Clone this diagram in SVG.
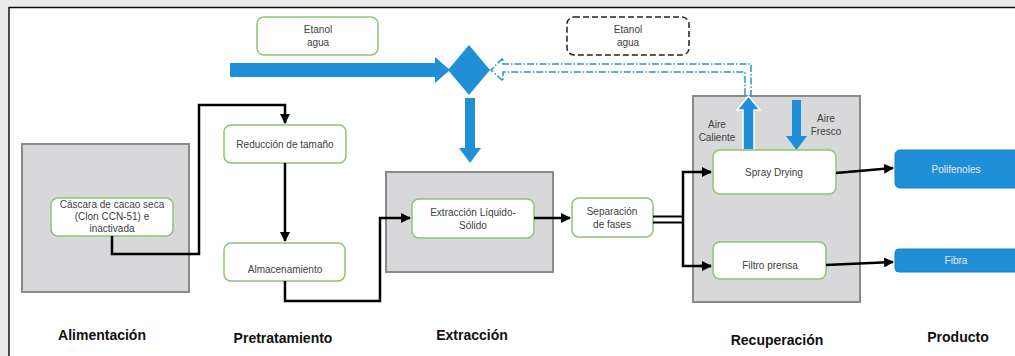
<svg xmlns="http://www.w3.org/2000/svg" width="1015" height="356" viewBox="0 0 1015 356">
<style>
.stage{fill:#d8d8da;stroke:#8a8a8a;stroke-width:2}
.node{fill:#fff;stroke:#8cc474;stroke-width:1.5}
.t{font-family:"Liberation Sans",Arial,sans-serif;font-size:10px;fill:#404040;text-anchor:middle}
.h{font-family:"Liberation Sans",Arial,sans-serif;font-size:14px;font-weight:bold;fill:#111;text-anchor:middle}
.prod{fill:#1f8fd8;stroke:#1a7fc4;stroke-width:1}
.pt{font-family:"Liberation Sans",Arial,sans-serif;font-size:10px;fill:#e8e8f4;text-anchor:middle}
.blue{fill:#1f8fd8}
.c{fill:none;stroke:#000;stroke-width:2.5}
</style>
<defs>
<marker id="ah" markerWidth="10" markerHeight="10" refX="9" refY="5" orient="auto" markerUnits="userSpaceOnUse">
<path d="M0,0 L10,5 L0,10 Z" fill="#000"/>
</marker>
</defs>
<rect x="0" y="0" width="1015" height="356" fill="#ececec"/>
<rect x="9" y="7.5" width="1020" height="360" fill="#fff" stroke="#111" stroke-width="1.5"/>

<g id="stage-alimentacion"><rect class="stage" x="22" y="144" width="167" height="148"/></g>
<g id="stage-extraccion"><rect class="stage" x="386" y="172" width="167" height="100"/></g>
<g id="stage-recuperacion"><rect class="stage" x="693" y="96" width="167" height="206"/></g>

<g id="solvent-in">
<rect class="node" x="257" y="17" width="121" height="38" rx="7"/>
<text class="t" x="318" y="33">Etanol</text>
<text class="t" x="318" y="46">agua</text>
</g>
<g id="solvent-recovered">
<rect x="567" y="17" width="122" height="38" rx="7" fill="#fff" stroke="#222" stroke-width="1.5" stroke-dasharray="6,3"/>
<text class="t" x="628" y="33">Etanol</text>
<text class="t" x="628" y="46">agua</text>
</g>
<g id="mixer"><polygon class="blue" points="448,70 469,45 490,70 469,95"/></g>

<g id="flows">
<polygon class="blue" points="230,63 435,63 435,57 450,70 435,83 435,77 230,77"/>
<polygon class="blue" points="465,98 475,98 475,148 481,148 470,163 459,148 465,148"/>
<path d="M751,97 L751,64 L503,64 L503,58 L491,70 L503,81 L503,72 L745,72 L745,97" fill="none" stroke="#2a90d8" stroke-width="1.5" stroke-dasharray="7,2,1.5,2"/>
<polygon class="blue" points="743,150 743,110 737,110 748.5,96 760,110 754,110 754,150" stroke="#fff" stroke-width="1.5"/>
<polygon class="blue" points="792,100 801,100 801,136 807,136 796.5,150 786,136 792,136"/>
</g>

<g id="cascara">
<rect class="node" x="51" y="198" width="122" height="38" rx="7"/>
<text class="t" x="112" y="208">Cáscara de cacao seca</text>
<text class="t" x="112" y="220">(Clon CCN-51) e</text>
<text class="t" x="112" y="232">inactivada</text>
</g>
<g id="reduccion">
<rect class="node" x="224" y="125" width="122" height="38" rx="7"/>
<text class="t" x="285" y="148">Reducción de tamaño</text>
</g>
<g id="almacenamiento">
<rect class="node" x="224" y="243" width="121" height="38" rx="7"/>
<text class="t" x="285" y="273">Almacenamiento</text>
</g>
<g id="extraccion-ls">
<rect class="node" x="412" y="199" width="122" height="39" rx="7"/>
<text class="t" x="473" y="216">Extracción Líquido-</text>
<text class="t" x="473" y="229">Sólido</text>
</g>
<g id="separacion">
<rect class="node" x="572" y="198" width="81" height="39" rx="7"/>
<text class="t" x="612" y="215">Separación</text>
<text class="t" x="612" y="228">de fases</text>
</g>
<g id="spray">
<rect class="node" x="713" y="150" width="123" height="44" rx="7"/>
<text class="t" x="774" y="176">Spray Drying</text>
<text class="t" x="717" y="128">Aire</text>
<text class="t" x="717" y="141">Caliente</text>
<text class="t" x="826" y="122">Aire</text>
<text class="t" x="826" y="135">Fresco</text>
</g>
<g id="filtro">
<rect class="node" x="713" y="242" width="113" height="37" rx="7"/>
<text class="t" x="770" y="269">Filtro prensa</text>
</g>
<g id="polifenoles">
<rect class="prod" x="895" y="150" width="130" height="38" rx="5"/>
<text class="pt" x="956" y="173">Polifenoles</text>
</g>
<g id="fibra">
<rect class="prod" x="895" y="249" width="130" height="23" rx="4"/>
<text class="pt" x="956" y="264">Fibra</text>
</g>

<g id="connectors">
<path class="c" d="M112,236 L112,254 L199,254 L199,105 L285,105 L285,123" marker-end="url(#ah)"/>
<path class="c" d="M285,163 L285,241" marker-end="url(#ah)"/>
<path class="c" d="M285,281 L285,301 L380,301 L380,218 L410,218" marker-end="url(#ah)"/>
<path class="c" d="M534,218 L570,218" marker-end="url(#ah)"/>
<path d="M653,216.5 L683,216.5 M653,222.5 L683,222.5" stroke="#000" stroke-width="2.2" fill="none"/>
<path class="c" d="M711,172 L683,172 L683,266 L711,266" fill="none"/>
<path class="c" d="M700,172 L711,172" marker-end="url(#ah)"/>
<path class="c" d="M700,266 L711,266" marker-end="url(#ah)"/>
<path class="c" d="M836,173 L893,168" marker-end="url(#ah)"/>
<path class="c" d="M826,265 L893,262" marker-end="url(#ah)"/>
</g>

<g id="labels">
<text class="h" x="102" y="340">Alimentación</text>
<text class="h" x="283" y="343">Pretratamiento</text>
<text class="h" x="472" y="340">Extracción</text>
<text class="h" x="777" y="345">Recuperación</text>
<text class="h" x="958" y="342">Producto</text>
</g>
</svg>
